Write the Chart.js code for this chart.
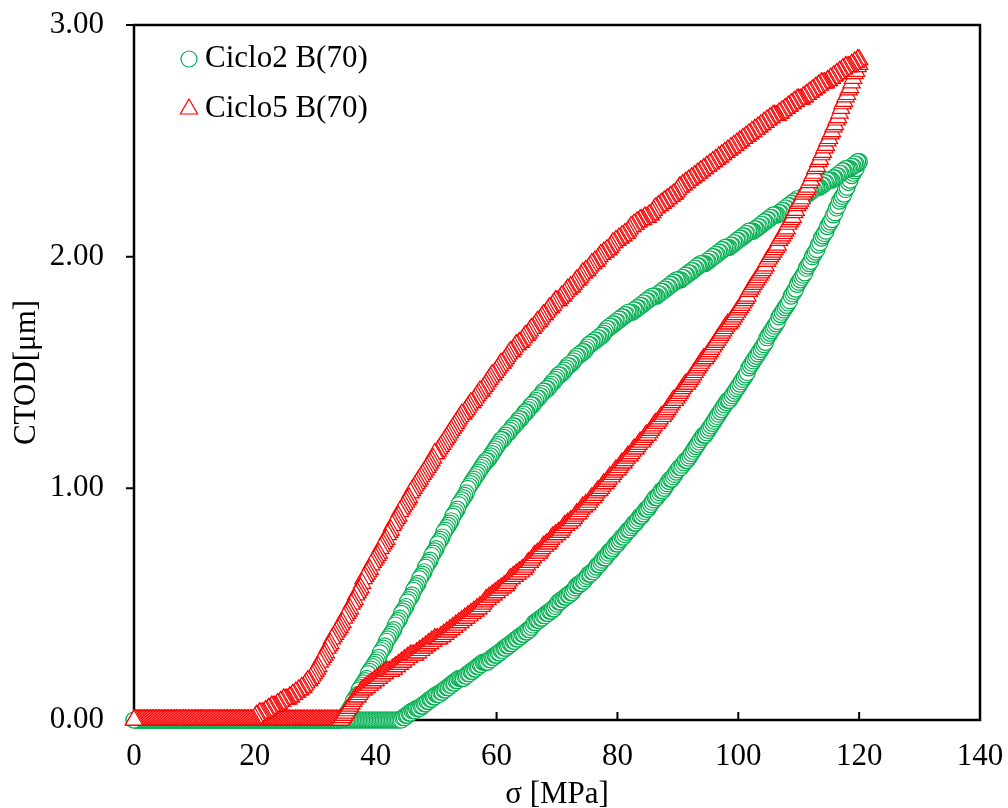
<!DOCTYPE html>
<html>
<head>
<meta charset="utf-8">
<script src="https://cdn.jsdelivr.net/npm/chart.js@4.4.1/dist/chart.umd.min.js"></script>
<style>
  html, body { margin: 0; padding: 0; background: #fff; }
</style>
</head>
<body>
<canvas id="ctodChart" width="1008" height="808"></canvas>
<script>
// Stress steps (MPa), shared by every branch; one line = 10 MPa
const stress = [
  0,0.25,0.5,0.75,1,1.25,1.5,1.75,2,2.25,2.5,2.75,3,3.25,3.5,3.75,4,4.25,4.5,4.75,5,5.25,5.5,5.75,6,6.25,6.5,6.75,7,7.25,7.5,7.75,8,8.25,8.5,8.75,9,9.25,9.5,9.75,
  10,10.25,10.5,10.75,11,11.25,11.5,11.75,12,12.25,12.5,12.75,13,13.25,13.5,13.75,14,14.25,14.5,14.75,15,15.25,15.5,15.75,16,16.25,16.5,16.75,17,17.25,17.5,17.75,18,18.25,18.5,18.75,19,19.25,19.5,19.75,
  20,20.25,20.5,20.75,21,21.25,21.5,21.75,22,22.25,22.5,22.75,23,23.25,23.5,23.75,24,24.25,24.5,24.75,25,25.25,25.5,25.75,26,26.25,26.5,26.75,27,27.25,27.5,27.75,28,28.25,28.5,28.75,29,29.25,29.5,29.75,
  30,30.25,30.5,30.75,31,31.25,31.5,31.75,32,32.25,32.5,32.75,33,33.25,33.5,33.75,34,34.25,34.5,34.75,35,35.25,35.5,35.75,36,36.25,36.5,36.75,37,37.25,37.5,37.75,38,38.25,38.5,38.75,39,39.25,39.5,39.75,
  40,40.25,40.5,40.75,41,41.25,41.5,41.75,42,42.25,42.5,42.75,43,43.25,43.5,43.75,44,44.25,44.5,44.75,45,45.25,45.5,45.75,46,46.25,46.5,46.75,47,47.25,47.5,47.75,48,48.25,48.5,48.75,49,49.25,49.5,49.75,
  50,50.25,50.5,50.75,51,51.25,51.5,51.75,52,52.25,52.5,52.75,53,53.25,53.5,53.75,54,54.25,54.5,54.75,55,55.25,55.5,55.75,56,56.25,56.5,56.75,57,57.25,57.5,57.75,58,58.25,58.5,58.75,59,59.25,59.5,59.75,
  60,60.25,60.5,60.75,61,61.25,61.5,61.75,62,62.25,62.5,62.75,63,63.25,63.5,63.75,64,64.25,64.5,64.75,65,65.25,65.5,65.75,66,66.25,66.5,66.75,67,67.25,67.5,67.75,68,68.25,68.5,68.75,69,69.25,69.5,69.75,
  70,70.25,70.5,70.75,71,71.25,71.5,71.75,72,72.25,72.5,72.75,73,73.25,73.5,73.75,74,74.25,74.5,74.75,75,75.25,75.5,75.75,76,76.25,76.5,76.75,77,77.25,77.5,77.75,78,78.25,78.5,78.75,79,79.25,79.5,79.75,
  80,80.25,80.5,80.75,81,81.25,81.5,81.75,82,82.25,82.5,82.75,83,83.25,83.5,83.75,84,84.25,84.5,84.75,85,85.25,85.5,85.75,86,86.25,86.5,86.75,87,87.25,87.5,87.75,88,88.25,88.5,88.75,89,89.25,89.5,89.75,
  90,90.25,90.5,90.75,91,91.25,91.5,91.75,92,92.25,92.5,92.75,93,93.25,93.5,93.75,94,94.25,94.5,94.75,95,95.25,95.5,95.75,96,96.25,96.5,96.75,97,97.25,97.5,97.75,98,98.25,98.5,98.75,99,99.25,99.5,99.75,
  100,100.25,100.5,100.75,101,101.25,101.5,101.75,102,102.25,102.5,102.75,103,103.25,103.5,103.75,104,104.25,104.5,104.75,105,105.25,105.5,105.75,106,106.25,106.5,106.75,107,107.25,107.5,107.75,108,108.25,108.5,108.75,109,109.25,109.5,109.75,
  110,110.25,110.5,110.75,111,111.25,111.5,111.75,112,112.25,112.5,112.75,113,113.25,113.5,113.75,114,114.25,114.5,114.75,115,115.25,115.5,115.75,116,116.25,116.5,116.75,117,117.25,117.5,117.75,118,118.25,118.5,118.75,119,119.25,119.5,119.75,
  120
];

// Ciclo2 B(70): CTOD (um) while loading
const ciclo2Load = [
  0,0,0,0,0,0,0,0,0,0,0,0,0,0,0,0,0,0,0,0,0,0,0,0,0,0,0,0,0,0,0,0,0,0,0,0,0,0,0,0,
  0,0,0,0,0,0,0,0,0,0,0,0,0,0,0,0,0,0,0,0,0,0,0,0,0,0,0,0,0,0,0,0,0,0,0,0,0,0,0,0,
  0,0,0,0,0,0,0,0,0,0,0,0,0,0,0,0,0,0,0,0,0,0,0,0,0,0,0,0,0,0,0,0,0,0,0,0,0,0,0,0,
  0,0,0,0,0,0,0,0,0,0,0,0,0,0,0,0,0,0,0,0,0,0,0,0,0,0,0,0,0,0,0,0,0,0,0,0,0,0,0,0,
  0,0,0,0,0,0,0,0,0,0,0,0,0,0,0,0,0,0,0.01,0.01,0.02,0.02,0.03,0.03,0.04,0.04,0.04,0.05,0.05,0.05,0.06,0.06,0.07,0.07,0.08,0.08,0.09,0.09,0.10,0.10,
  0.11,0.11,0.11,0.12,0.12,0.13,0.13,0.14,0.14,0.15,0.15,0.16,0.16,0.17,0.17,0.18,0.18,0.18,0.18,0.19,0.19,0.20,0.20,0.21,0.21,0.22,0.22,0.23,0.23,0.24,0.24,0.25,0.25,0.25,0.25,0.26,0.26,0.27,0.27,0.28,
  0.28,0.29,0.29,0.30,0.30,0.31,0.31,0.32,0.32,0.33,0.33,0.34,0.34,0.35,0.35,0.36,0.36,0.37,0.37,0.38,0.38,0.39,0.39,0.40,0.41,0.42,0.42,0.43,0.43,0.44,0.44,0.45,0.45,0.46,0.46,0.47,0.47,0.48,0.48,0.49,
  0.50,0.51,0.51,0.52,0.52,0.53,0.53,0.54,0.54,0.55,0.55,0.56,0.57,0.58,0.58,0.59,0.59,0.60,0.60,0.61,0.62,0.63,0.63,0.64,0.64,0.65,0.66,0.67,0.67,0.68,0.69,0.70,0.70,0.71,0.72,0.73,0.73,0.74,0.75,0.76,
  0.76,0.77,0.78,0.79,0.79,0.80,0.81,0.82,0.82,0.83,0.84,0.85,0.85,0.86,0.87,0.88,0.88,0.89,0.90,0.91,0.91,0.92,0.93,0.94,0.95,0.96,0.96,0.97,0.98,0.99,0.99,1.00,1.01,1.02,1.03,1.04,1.04,1.05,1.06,1.07,
  1.08,1.09,1.09,1.10,1.11,1.12,1.12,1.13,1.14,1.15,1.16,1.17,1.18,1.19,1.20,1.21,1.22,1.23,1.23,1.24,1.25,1.26,1.27,1.28,1.29,1.30,1.31,1.32,1.33,1.34,1.35,1.36,1.37,1.38,1.38,1.39,1.40,1.41,1.42,1.43,
  1.44,1.45,1.46,1.47,1.48,1.49,1.50,1.52,1.53,1.54,1.55,1.56,1.57,1.58,1.59,1.60,1.61,1.62,1.63,1.65,1.66,1.67,1.68,1.69,1.70,1.71,1.72,1.74,1.75,1.76,1.77,1.78,1.79,1.80,1.81,1.83,1.84,1.85,1.86,1.88,
  1.89,1.90,1.91,1.92,1.93,1.95,1.96,1.97,1.98,2.00,2.01,2.02,2.03,2.05,2.06,2.08,2.09,2.10,2.11,2.13,2.14,2.15,2.16,2.18,2.19,2.21,2.22,2.24,2.25,2.26,2.27,2.29,2.30,2.32,2.33,2.35,2.36,2.37,2.38,2.40,
  2.41
];

// Ciclo2 B(70): CTOD (um) while unloading
const ciclo2Unload = [
  0,0,0,0,0,0,0,0,0,0,0,0,0,0,0,0,0,0,0,0,0,0,0,0,0,0,0,0,0,0,0,0,0,0,0,0,0,0,0,0,
  0,0,0,0,0,0,0,0,0,0,0,0,0,0,0,0,0,0,0,0,0,0,0,0,0,0,0,0,0,0,0,0,0,0,0,0,0,0,0,0,
  0,0,0,0,0,0,0,0,0,0,0,0,0,0,0,0,0,0,0,0,0,0,0,0,0,0,0,0,0,0,0,0,0,0,0,0,0,0,0,0,
  0,0,0,0,0,0,0,0,0,0,0,0,0,0,0,0,0,0,0.01,0.01,0.02,0.03,0.04,0.05,0.06,0.08,0.09,0.10,0.11,0.13,0.14,0.15,0.16,0.17,0.18,0.20,0.21,0.22,0.23,0.24,
  0.25,0.26,0.27,0.29,0.30,0.31,0.32,0.34,0.35,0.36,0.37,0.38,0.39,0.41,0.42,0.43,0.44,0.46,0.47,0.48,0.49,0.51,0.52,0.53,0.54,0.56,0.57,0.58,0.59,0.61,0.62,0.63,0.64,0.66,0.67,0.68,0.69,0.71,0.72,0.73,
  0.74,0.76,0.77,0.78,0.79,0.81,0.82,0.83,0.84,0.85,0.86,0.88,0.89,0.90,0.91,0.93,0.94,0.95,0.96,0.97,0.98,1.00,1.01,1.02,1.03,1.04,1.05,1.06,1.07,1.08,1.09,1.10,1.11,1.12,1.12,1.13,1.14,1.15,1.16,1.17,
  1.18,1.19,1.20,1.21,1.21,1.22,1.23,1.24,1.24,1.25,1.26,1.27,1.27,1.28,1.29,1.30,1.30,1.31,1.32,1.33,1.33,1.34,1.35,1.36,1.36,1.37,1.38,1.39,1.39,1.40,1.41,1.42,1.42,1.43,1.43,1.44,1.45,1.46,1.46,1.47,
  1.48,1.49,1.49,1.50,1.50,1.51,1.52,1.53,1.53,1.54,1.54,1.55,1.56,1.57,1.57,1.58,1.58,1.59,1.59,1.60,1.61,1.62,1.62,1.63,1.63,1.64,1.64,1.65,1.65,1.66,1.66,1.67,1.68,1.69,1.69,1.70,1.70,1.71,1.71,1.72,
  1.72,1.73,1.73,1.74,1.74,1.75,1.75,1.76,1.76,1.76,1.76,1.77,1.77,1.78,1.78,1.79,1.79,1.80,1.80,1.81,1.81,1.82,1.82,1.83,1.83,1.83,1.83,1.84,1.84,1.85,1.85,1.86,1.86,1.87,1.87,1.88,1.88,1.89,1.89,1.90,
  1.90,1.90,1.90,1.91,1.91,1.92,1.92,1.93,1.93,1.94,1.94,1.95,1.95,1.96,1.96,1.97,1.97,1.97,1.97,1.98,1.98,1.99,1.99,2.00,2.00,2.01,2.01,2.02,2.02,2.03,2.03,2.04,2.04,2.04,2.04,2.05,2.05,2.06,2.06,2.07,
  2.07,2.08,2.08,2.09,2.09,2.10,2.10,2.11,2.11,2.11,2.11,2.12,2.12,2.13,2.13,2.14,2.14,2.15,2.15,2.16,2.16,2.17,2.17,2.18,2.18,2.18,2.18,2.19,2.19,2.20,2.20,2.21,2.21,2.22,2.22,2.23,2.23,2.24,2.24,2.25,
  2.25,2.25,2.25,2.26,2.26,2.27,2.27,2.28,2.28,2.29,2.29,2.30,2.30,2.30,2.30,2.31,2.31,2.32,2.32,2.33,2.33,2.33,2.33,2.34,2.34,2.35,2.35,2.36,2.36,2.37,2.37,2.38,2.38,2.38,2.38,2.39,2.39,2.40,2.40,2.41,
  2.41
];

// Ciclo5 B(70): CTOD (um) while loading
const ciclo5Load = [
  0,0,0,0,0,0,0,0,0,0,0,0,0,0,0,0,0,0,0,0,0,0,0,0,0,0,0,0,0,0,0,0,0,0,0,0,0,0,0,0,
  0,0,0,0,0,0,0,0,0,0,0,0,0,0,0,0,0,0,0,0,0,0,0,0,0,0,0,0,0,0,0,0,0,0,0,0,0,0,0,0,
  0,0,0,0,0,0,0,0,0,0,0,0,0,0,0,0,0,0,0,0,0,0,0,0,0,0,0,0,0,0,0,0,0,0,0,0,0,0,0,0,
  0,0,0,0,0,0,0,0,0,0,0,0,0,0,0,0,0,0,0.01,0.02,0.03,0.04,0.05,0.06,0.07,0.08,0.09,0.10,0.10,0.11,0.12,0.13,0.13,0.14,0.14,0.15,0.15,0.16,0.16,0.17,
  0.17,0.18,0.18,0.19,0.19,0.20,0.20,0.21,0.21,0.21,0.21,0.22,0.22,0.23,0.23,0.24,0.24,0.25,0.25,0.26,0.26,0.27,0.27,0.28,0.28,0.28,0.28,0.29,0.29,0.30,0.30,0.31,0.31,0.32,0.32,0.33,0.33,0.34,0.34,0.35,
  0.35,0.35,0.35,0.36,0.36,0.37,0.37,0.38,0.38,0.39,0.39,0.40,0.40,0.41,0.41,0.42,0.42,0.43,0.43,0.44,0.44,0.45,0.45,0.46,0.46,0.47,0.47,0.48,0.48,0.49,0.49,0.50,0.51,0.52,0.52,0.53,0.53,0.54,0.54,0.55,
  0.55,0.56,0.56,0.57,0.57,0.58,0.58,0.59,0.60,0.61,0.61,0.62,0.62,0.63,0.63,0.64,0.64,0.65,0.65,0.66,0.67,0.68,0.68,0.69,0.70,0.71,0.71,0.72,0.72,0.73,0.74,0.75,0.75,0.76,0.76,0.77,0.78,0.79,0.79,0.80,
  0.80,0.81,0.81,0.82,0.83,0.84,0.84,0.85,0.85,0.86,0.86,0.87,0.88,0.89,0.89,0.90,0.91,0.92,0.92,0.93,0.93,0.94,0.95,0.96,0.96,0.97,0.98,0.99,0.99,1.00,1.01,1.02,1.02,1.03,1.04,1.05,1.05,1.06,1.07,1.08,
  1.08,1.09,1.10,1.11,1.11,1.12,1.13,1.14,1.14,1.15,1.16,1.17,1.17,1.18,1.19,1.20,1.20,1.21,1.22,1.23,1.23,1.24,1.25,1.26,1.27,1.28,1.28,1.29,1.30,1.31,1.31,1.32,1.33,1.34,1.35,1.36,1.37,1.38,1.38,1.39,
  1.40,1.41,1.42,1.43,1.44,1.45,1.45,1.46,1.47,1.48,1.49,1.50,1.51,1.52,1.53,1.54,1.55,1.56,1.56,1.57,1.58,1.59,1.60,1.61,1.62,1.63,1.64,1.65,1.66,1.67,1.68,1.69,1.70,1.71,1.71,1.72,1.73,1.74,1.75,1.76,
  1.77,1.78,1.79,1.80,1.81,1.82,1.83,1.85,1.86,1.87,1.88,1.89,1.90,1.91,1.92,1.93,1.94,1.95,1.96,1.98,1.99,2.00,2.01,2.02,2.03,2.04,2.05,2.07,2.08,2.09,2.10,2.11,2.12,2.14,2.15,2.16,2.17,2.19,2.20,2.22,
  2.23,2.24,2.25,2.27,2.28,2.29,2.30,2.32,2.33,2.35,2.36,2.38,2.39,2.41,2.42,2.44,2.45,2.47,2.48,2.50,2.51,2.53,2.54,2.56,2.57,2.59,2.60,2.62,2.64,2.66,2.67,2.69,2.70,2.72,2.73,2.75,2.77,2.79,2.80,2.82,
  2.83
];

// Ciclo5 B(70): CTOD (um) while unloading
const ciclo5Unload = [
  0,0,0,0,0,0,0,0,0,0,0,0,0,0,0,0,0,0,0,0,0,0,0,0,0,0,0,0,0,0,0,0,0,0,0,0,0,0,0,0,
  0,0,0,0,0,0,0,0,0,0,0,0,0,0,0,0,0,0,0,0,0,0,0,0,0,0,0,0,0,0,0,0,0,0,0,0,0,0,0,0,
  0.01,0.02,0.02,0.03,0.03,0.03,0.03,0.04,0.04,0.05,0.05,0.06,0.06,0.06,0.06,0.07,0.07,0.08,0.08,0.09,0.09,0.09,0.09,0.10,0.10,0.11,0.11,0.12,0.12,0.13,0.13,0.14,0.14,0.15,0.16,0.17,0.17,0.18,0.19,0.20,
  0.21,0.22,0.23,0.25,0.26,0.27,0.28,0.29,0.31,0.32,0.33,0.35,0.36,0.37,0.38,0.39,0.40,0.41,0.42,0.44,0.45,0.46,0.47,0.48,0.50,0.51,0.52,0.54,0.55,0.56,0.57,0.59,0.61,0.62,0.63,0.64,0.65,0.67,0.68,0.69,
  0.70,0.71,0.72,0.74,0.75,0.76,0.77,0.78,0.80,0.81,0.82,0.84,0.85,0.86,0.87,0.88,0.90,0.91,0.92,0.93,0.94,0.95,0.96,0.98,0.99,1.00,1.01,1.02,1.03,1.04,1.05,1.06,1.07,1.08,1.09,1.10,1.11,1.12,1.13,1.15,
  1.15,1.16,1.17,1.18,1.19,1.20,1.21,1.22,1.23,1.24,1.25,1.26,1.27,1.28,1.29,1.30,1.31,1.32,1.32,1.33,1.34,1.35,1.36,1.37,1.37,1.38,1.39,1.40,1.41,1.42,1.42,1.43,1.44,1.45,1.46,1.47,1.48,1.49,1.49,1.50,
  1.51,1.52,1.53,1.54,1.54,1.55,1.56,1.57,1.58,1.59,1.59,1.60,1.61,1.62,1.62,1.63,1.63,1.64,1.65,1.66,1.66,1.67,1.68,1.69,1.69,1.70,1.71,1.72,1.72,1.73,1.74,1.75,1.75,1.76,1.77,1.78,1.78,1.79,1.80,1.81,
  1.81,1.81,1.82,1.83,1.83,1.84,1.85,1.86,1.86,1.87,1.87,1.88,1.89,1.90,1.90,1.91,1.92,1.93,1.93,1.94,1.94,1.95,1.96,1.97,1.97,1.98,1.98,1.99,2.00,2.01,2.01,2.02,2.02,2.03,2.03,2.04,2.05,2.06,2.06,2.07,
  2.07,2.08,2.08,2.09,2.09,2.10,2.10,2.11,2.12,2.13,2.13,2.14,2.14,2.15,2.15,2.16,2.16,2.16,2.17,2.17,2.17,2.18,2.18,2.19,2.20,2.21,2.21,2.22,2.22,2.23,2.23,2.24,2.24,2.25,2.25,2.26,2.26,2.27,2.27,2.28,
  2.29,2.30,2.30,2.31,2.31,2.32,2.32,2.33,2.33,2.34,2.34,2.35,2.35,2.36,2.36,2.37,2.37,2.38,2.38,2.39,2.39,2.40,2.40,2.41,2.41,2.42,2.42,2.43,2.43,2.44,2.44,2.45,2.45,2.46,2.46,2.47,2.47,2.48,2.48,2.49,
  2.49,2.50,2.50,2.51,2.51,2.52,2.52,2.53,2.53,2.54,2.54,2.55,2.55,2.56,2.56,2.57,2.57,2.58,2.58,2.59,2.59,2.60,2.60,2.61,2.61,2.61,2.61,2.62,2.62,2.63,2.63,2.64,2.64,2.65,2.65,2.66,2.66,2.67,2.67,2.68,
  2.68,2.68,2.68,2.69,2.69,2.70,2.70,2.71,2.71,2.72,2.72,2.73,2.73,2.74,2.74,2.75,2.75,2.75,2.75,2.76,2.76,2.77,2.77,2.78,2.78,2.79,2.79,2.80,2.80,2.81,2.81,2.82,2.82,2.82,2.82,2.83,2.83,2.84,2.84,2.85,
  2.85
];

const seriesNames = ['Ciclo2 B(70)', 'Ciclo5 B(70)'];
const xTicks = [0, 20, 40, 60, 80, 100, 120, 140];
const yTicks = [0, 1, 2, 3];

const FONT = "'Liberation Serif', 'Times New Roman', serif";
const GREEN = '#00B050';
const RED = '#FF0000';

// loading branch going up, then unloading branch coming back down
function loop(up, down) {
  const pts = stress.map((s, i) => ({ x: s, y: up[i] }));
  for (let i = stress.length - 1; i >= 0; i--) {
    pts.push({ x: stress[i], y: down[i] });
  }
  return pts;
}

// Frame box and tick marks (x ticks point inward, y ticks outward)
const framePlugin = {
  id: 'frame',
  beforeDatasetsDraw(chart) {
    const { ctx, chartArea: a } = chart;
    const { x, y } = chart.scales;
    ctx.save();
    ctx.strokeStyle = '#000';
    ctx.lineWidth = 2.5;
    ctx.strokeRect(a.left, a.top, a.right - a.left, a.bottom - a.top);
    ctx.lineWidth = 2;
    ctx.beginPath();
    xTicks.forEach(v => {
      const px = x.getPixelForValue(v);
      ctx.moveTo(px, a.bottom);
      ctx.lineTo(px, a.bottom - 8);
    });
    yTicks.forEach(v => {
      const py = y.getPixelForValue(v);
      ctx.moveTo(a.left, py);
      ctx.lineTo(a.left - 8, py);
    });
    ctx.stroke();
    ctx.restore();
  }
};

// Legend drawn inside the plot, top left
const legendPlugin = {
  id: 'cornerLegend',
  afterDraw(chart) {
    const ctx = chart.ctx;
    const a = chart.chartArea;
    ctx.save();
    chart.data.datasets.forEach((ds, row) => {
      const cx = a.left + 55;
      const cy = a.top + 34 + row * 50;
      ctx.strokeStyle = ds.pointBorderColor;
      ctx.fillStyle = '#fff';
      ctx.lineWidth = ds.pointBorderWidth;
      Chart.helpers.drawPoint(ctx, {
        pointStyle: ds.pointStyle,
        radius: ds.pointRadius,
        rotation: 0,
        borderWidth: ds.pointBorderWidth
      }, cx, cy);
      ctx.fillStyle = '#000';
      ctx.font = '31px ' + FONT;
      ctx.textBaseline = 'middle';
      ctx.textAlign = 'left';
      ctx.fillText(ds.label, cx + 16, cy);
    });
    ctx.restore();
  }
};

const ctx = document.getElementById('ctodChart').getContext('2d');
new Chart(ctx, {
  type: 'scatter',
  data: {
    datasets: [{
      label: seriesNames[0],
      data: loop(ciclo2Load, ciclo2Unload),
      pointStyle: 'circle',
      pointRadius: 8,
      pointBorderWidth: 1.2,
      pointBorderColor: GREEN,
      pointBackgroundColor: '#fff',
      showLine: false,
      clip: false,
      order: 1
    }, {
      label: seriesNames[1],
      data: loop(ciclo5Load, ciclo5Unload),
      pointStyle: 'triangle',
      pointRadius: 10,
      pointBorderWidth: 1.2,
      pointBorderColor: RED,
      pointBackgroundColor: '#fff',
      showLine: false,
      clip: false,
      order: 0
    }]
  },
  options: {
    responsive: false,
    animation: false,
    devicePixelRatio: 1,
    events: [],
    layout: { padding: { top: 25, right: 28, left: 0, bottom: 0 } },
    plugins: {
      legend: { display: false },
      tooltip: { enabled: false }
    },
    scales: {
      x: {
        type: 'linear',
        min: 0,
        max: 140,
        afterFit: s => {
          s.height = 88;
          s.paddingLeft = 0;
          s.paddingRight = 0;
        },
        afterBuildTicks: s => { s.ticks = xTicks.map(v => ({ value: v })); },
        grid: { display: false, drawTicks: false },
        border: { display: false },
        ticks: {
          color: '#000',
          font: { family: FONT, size: 31 },
          padding: 18,
          maxRotation: 0
        },
        title: {
          display: true,
          text: 'σ [MPa]',
          color: '#000',
          font: { family: FONT, size: 31 },
          padding: { top: 0, bottom: -5 }
        }
      },
      y: {
        type: 'linear',
        min: 0,
        max: 3,
        afterFit: s => {
          s.width = 134;
          s.paddingTop = 0;
          s.paddingBottom = 0;
        },
        afterBuildTicks: s => { s.ticks = yTicks.map(v => ({ value: v })); },
        grid: { display: false, drawTicks: false },
        border: { display: false },
        ticks: {
          color: '#000',
          font: { family: FONT, size: 31 },
          padding: 30,
          callback: v => v.toFixed(2)
        },
        title: {
          display: true,
          text: 'CTOD[μm]',
          color: '#000',
          font: { family: FONT, size: 31 },
          padding: { top: 8, bottom: 0 }
        }
      }
    }
  },
  plugins: [framePlugin, legendPlugin]
});
</script>
</body>
</html>
